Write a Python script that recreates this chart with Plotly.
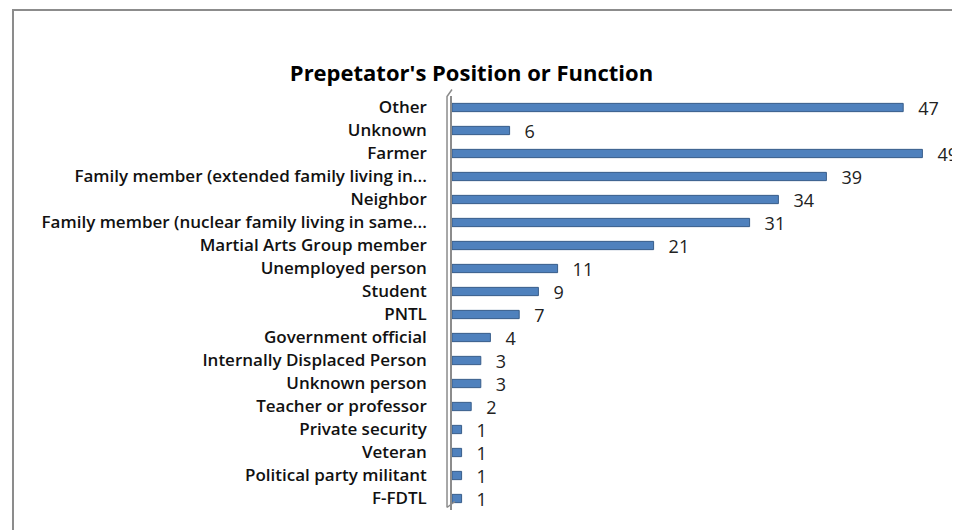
import plotly.graph_objects as go

categories = [
    "Other",
    "Unknown",
    "Farmer",
    "Family member (extended family living in...",
    "Neighbor",
    "Family member (nuclear family living in same...",
    "Martial Arts Group member",
    "Unemployed person",
    "Student",
    "PNTL",
    "Government official",
    "Internally Displaced Person",
    "Unknown person",
    "Teacher or professor",
    "Private security",
    "Veteran",
    "Political party militant",
    "F-FDTL",
]
values = [47, 6, 49, 39, 34, 31, 21, 11, 9, 7, 4, 3, 3, 2, 1, 1, 1, 1]
title_text = "Prepetator's Position or Function"

fig = go.Figure()
fig.add_trace(go.Bar(
    y=categories,
    x=values,
    orientation="h",
    width=0.36,
    marker=dict(color="#4F81BD", line=dict(color="#385D8A", width=1)),
    text=["\u2002\u2009" + str(v) for v in values],
    textposition="outside",
    constraintext="none",
    textfont=dict(family="Open Sans", size=18, color="#222222"),
    cliponaxis=False,
    hoverinfo="x+y",
))

# 3D wall-like outline
fig.add_shape(type="path",
              xref="x domain", yref="y domain",
              path="M -0.0104,0.006 L -0.0104,0.9988 L 0.0,1.0157 M -0.0104,0.006 L 0.006,0.0205",
              line=dict(color="#8C8C8C", width=1.5))

# outer border
fig.add_shape(type="rect", xref="paper", yref="paper",
              x0=-0.9146, x1=1.3, y0=-0.3, y1=1.2077,
              line=dict(color="#8C8C8C", width=2), fillcolor="rgba(0,0,0,0)", layer="below")

fig.update_layout(
    width=960, height=530,
    paper_bgcolor="white", plot_bgcolor="white",
    margin=dict(l=444, r=36, t=88, b=28, autoexpand=False),
    showlegend=False,
    title=dict(text=title_text, x=0.4828, xanchor="center", xref="container",
               y=0.8774, yanchor="middle", yref="container",
               font=dict(family="Open Sans", size=22, color="#000000", weight="bold")),
    xaxis=dict(range=[0, 50], visible=False, fixedrange=True),
    yaxis=dict(
        autorange=False, range=[17.5, -0.5],
        type="category", automargin=False,
        showline=True, linecolor="#8C8C8C", linewidth=1.5,
        showgrid=False, ticks="",
        ticklabelstandoff=20,
        tickfont=dict(family="Open Sans", size=17, color="#111111", weight=600),
    ),
)

fig.write_html("out.html")
